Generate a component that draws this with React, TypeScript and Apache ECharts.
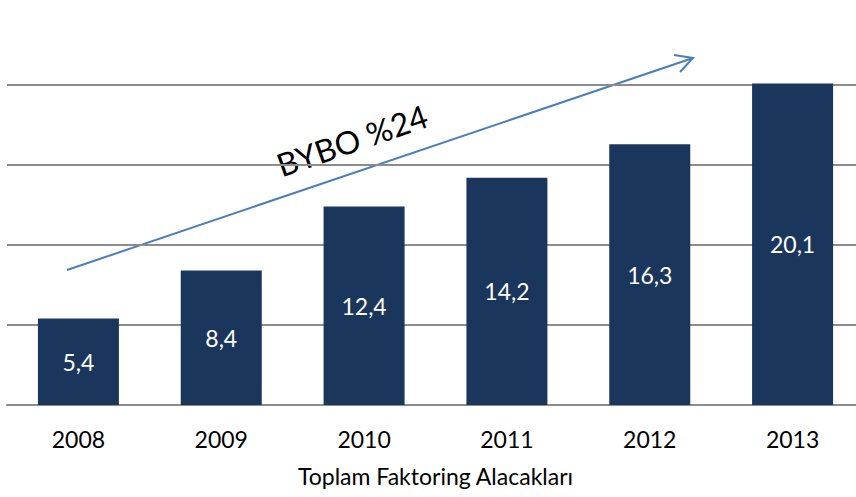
import React, { useEffect, useRef } from "react";
import * as echarts from "echarts";

const categories = ["2008", "2009", "2010", "2011", "2012", "2013"];
const values = [5.4, 8.4, 12.4, 14.2, 16.3, 20.1];
const axisName = "Toplam Faktoring Alacakları";
const annotation = "BYBO %24";

export default function App() {
  const ref = useRef<HTMLDivElement>(null);
  useEffect(() => {
    if (!ref.current) return;
    const chart = echarts.init(ref.current, null, { renderer: "svg" });
    chart.setOption({
      animation: false,
      backgroundColor: "#ffffff",
      grid: { left: 7, top: 85, width: 857, height: 320, containLabel: false },
      xAxis: {
        type: "category",
        data: categories,
        axisLine: { show: true, lineStyle: { color: "#8c8c8c", width: 2 } },
        axisTick: { show: false },
        axisLabel: { color: "#000", fontFamily: "Lato", fontSize: 23, margin: 22 },
        name: axisName,
        nameLocation: "middle",
        nameGap: 59,
        nameTextStyle: { color: "#000", fontFamily: "Lato", fontSize: 23 },
      },
      yAxis: {
        type: "value",
        min: 0,
        max: 20,
        interval: 5,
        axisLabel: { show: false },
        axisLine: { show: false },
        axisTick: { show: false },
        splitLine: { show: true, lineStyle: { color: "#8c8c8c", width: 2 } },
      },
      series: [
        {
          type: "bar",
          data: values,
          barWidth: 81,
          clip: false,
          itemStyle: { color: "#1b365d" },
          label: {
            show: true,
            position: "inside",
            color: "#fff",
            fontFamily: "Lato",
            fontSize: 23,
            formatter: (p: any) => String(p.value).replace(".", ","),
          },
        },
      ],
      graphic: [
        {
          type: "line",
          shape: { x1: 67, y1: 270, x2: 693, y2: 58 },
          style: { stroke: "#4a7ebb", lineWidth: 2 },
        },
        {
          type: "polyline",
          shape: { points: [[674, 55], [693, 58], [680, 72]] },
          style: { stroke: "#4a7ebb", lineWidth: 2, fill: null },
        },
        {
          type: "text",
          x: 352,
          y: 140,
          rotation: (19 * Math.PI) / 180,
          style: {
            text: annotation,
            fontFamily: "Lato",
            fontSize: 32,
            fill: "#000",
            align: "center",
            verticalAlign: "middle",
          },
        },
      ],
    });
    return () => chart.dispose();
  }, []);
  return (
    <div style={{ width: 856, height: 497, position: "absolute", left: 0, top: 0, overflow: "hidden", background: "#fff" }}>
      <div ref={ref} style={{ width: 872, height: 497 }} />
    </div>
  );
}
